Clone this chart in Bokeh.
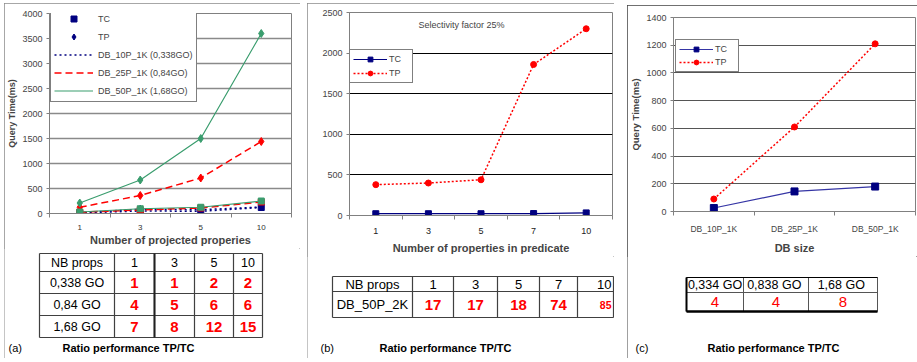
from bokeh.plotting import figure
from bokeh.layouts import row, column
from bokeh.models import Range1d, FixedTicker, Legend, LegendItem, Label, Spacer
from bokeh.core.properties import value
from bokeh.embed import file_html
from bokeh.resources import INLINE

FONT = "Liberation Sans"

# ---------------- data ----------------
# (a)
a_props = ["1", "3", "5", "10"]
a_tc_10p = [10, 50, 45, 120]
a_tp_10p = [15, 85, 75, 130]
a_tc_25p = [25, 70, 110, 230]
a_tp_25p = [125, 360, 710, 1440]
a_tc_50p = [30, 95, 125, 250]
a_tp_50p = [210, 670, 1500, 3600]
a_series = ["DB_10P_1K (0,338GO)", "DB_25P_1K (0,84GO)", "DB_50P_1K (1,68GO)"]
a_yticks = [0, 500, 1000, 1500, 2000, 2500, 3000, 3500, 4000]
a_head = "NB props"
a_rows = ["0,338 GO", "0,84 GO", "1,68 GO"]
a_ratio_10p = [1, 1, 2, 2]
a_ratio_25p = [4, 5, 6, 6]
a_ratio_50p = [7, 8, 12, 15]

# (b)
b_props = ["1", "3", "5", "7", "10"]
b_tc = [22, 22, 22, 24, 32]
b_tp = [380, 400, 440, 1860, 2300]
b_yticks = [0, 500, 1000, 1500, 2000, 2500]
b_head = "NB props"
b_row = "DB_50P_2K"
b_ratio = [17, 17, 18, 74, 85]

# (c)
c_dbs = ["DB_10P_1K", "DB_25P_1K", "DB_50P_1K"]
c_tc = [25, 145, 180]
c_tp = [90, 610, 1210]
c_yticks = [0, 200, 400, 600, 800, 1000, 1200, 1400]
c_sizes = ["0,334 GO", "0,838  GO", "1,68  GO"]
c_ratio = [4, 4, 8]

caption = "Ratio performance TP/TC"

NAVY = "#000080"
RED = "#FF0000"
GREEN = "#3A9D6E"


def make_chart(w, h, left, right, top, frame_h, cats, yticks, grid_color, grid_width,
               xlab_size, xlab_color, lab_standoff, title_standoff):
    n = len(cats)
    xs = list(range(1, n + 1))
    p = figure(width=w, height=h, title=None, output_backend="svg", toolbar_location=None,
               x_range=Range1d(0.5, n + 0.5), y_range=Range1d(yticks[0], yticks[-1]),
               min_border_left=left, min_border_right=right,
               min_border_top=top, min_border_bottom=h - top - frame_h, frame_align=False)
    p.background_fill_color = "white"
    p.border_fill_color = "white"
    p.outline_line_color = "#808080"
    p.xgrid.visible = False
    p.ygrid.ticker = FixedTicker(ticks=yticks)
    p.ygrid.grid_line_color = grid_color
    p.ygrid.grid_line_width = grid_width
    xa = p.xaxis[0]
    xa.ticker = FixedTicker(ticks=xs, minor_ticks=[x - 0.5 for x in xs] + [n + 0.5])
    xa.major_label_overrides = {x: c for x, c in zip(xs, cats)}
    xa.major_tick_line_color = None
    xa.major_tick_out = 0
    xa.major_tick_in = 0
    xa.minor_tick_in = 0
    xa.minor_tick_out = 4
    xa.minor_tick_line_color = "#808080"
    xa.axis_line_color = "#808080"
    xa.major_label_text_font = FONT
    xa.major_label_text_font_size = xlab_size
    xa.major_label_text_color = xlab_color
    xa.major_label_standoff = lab_standoff
    xa.axis_label_text_font = FONT
    xa.axis_label_text_font_style = "bold"
    xa.axis_label_text_font_size = "11px"
    xa.axis_label_standoff = title_standoff
    ya = p.yaxis[0]
    ya.ticker = FixedTicker(ticks=yticks)
    ya.axis_line_color = "#808080"
    ya.major_tick_line_color = "#808080"
    ya.major_tick_out = 3
    ya.major_tick_in = 0
    ya.minor_tick_line_color = None
    ya.major_label_text_font = FONT
    ya.major_label_text_font_size = "9px"
    ya.major_label_standoff = 4
    ya.axis_label_text_font = FONT
    ya.axis_label_text_font_style = "bold"
    ya.axis_label_text_font_size = "9px"
    ya.axis_label_standoff = 2
    return p, xs


def style_legend(lg, pad, gw, gh, sp, fs, standoff):
    lg.border_line_color = "black"
    lg.border_line_width = 1
    lg.background_fill_color = "white"
    lg.background_fill_alpha = 1
    lg.padding = pad
    lg.margin = 0
    lg.spacing = sp
    lg.glyph_width = gw
    lg.glyph_height = gh
    lg.label_height = gh
    lg.label_standoff = standoff
    lg.label_text_font = FONT
    lg.label_text_font_size = fs
    lg.label_text_baseline = "middle"


def table_fig(w, h):
    t = figure(width=w, height=h, title=None, output_backend="svg", toolbar_location=None,
               x_range=Range1d(0, w), y_range=Range1d(h, 0),
               x_axis_type=None, y_axis_type=None, min_border=0, frame_align=False)
    t.outline_line_color = None
    t.background_fill_color = "white"
    t.border_fill_color = "white"
    return t


def grid_lines(t, cx, ry, color, width):
    t.segment(x0=cx, y0=[ry[0]] * len(cx), x1=cx, y1=[ry[-1]] * len(cx),
              line_color=color, line_width=width)
    t.segment(x0=[cx[0]] * len(ry), y0=ry, x1=[cx[-1]] * len(ry), y1=ry,
              line_color=color, line_width=width)


def txt(t, xs, ys, texts, size, color="black", bold=False, align="center"):
    t.text(x=xs, y=ys, text=texts, text_font=value(FONT), text_font_size=size,
           text_color=color, text_font_style="bold" if bold else "normal",
           text_align=align, text_baseline="middle")


def mids(v):
    return [(v[i] + v[i + 1]) / 2 for i in range(len(v) - 1)]


def panel(chart, table, color):
    return column(chart, table, styles={"outline": f"1px solid {color}",
                                        "outline-offset": "-1px"})


# ---------------- panel (a) ----------------
WA, HCA, HTA, FHA = 296, 245, 110, 202
pa, xa_ = make_chart(WA, HCA, 41, 9, 10, FHA, a_props, a_yticks, "#8A8A8A", 1.6,
                     "8px", "#333333", 7, 1)
pa.yaxis[0].axis_label = "Query Time(ms)"
pa.xaxis[0].axis_label = "Number of projected properies"

specs = [
    (a_tc_10p, a_tp_10p, NAVY, "2 3", 1.5),
    (a_tc_25p, a_tp_25p, RED, "7 4", 1.5),
    (a_tc_50p, a_tp_50p, GREEN, "solid", 1.2),
]
lines, tc_marks, tp_marks = [], [], []
for tc, tp, col, dash, lw in specs:
    l1 = pa.line(xa_, tc, line_color=col, line_dash=dash, line_width=lw)
    pa.line(xa_, tp, line_color=col, line_dash=dash, line_width=lw)
    m1 = pa.scatter(xa_, tc, marker="square", size=6, color=col)
    m2 = pa.scatter(xa_, tp, marker="diamond", size=8, color=col)
    lines.append(l1)
    tc_marks.append(m1)
    tp_marks.append(m2)

leg_a = Legend(items=[LegendItem(label="TC", renderers=[tc_marks[0]]),
                      LegendItem(label="TP", renderers=[tp_marks[0]])] +
                     [LegendItem(label=s, renderers=[l]) for s, l in zip(a_series, lines)],
               location=(1, FHA - 91))
style_legend(leg_a, 3, 39, 15, 3, "9px", 5)
pa.add_layout(leg_a)

ta = table_fig(WA, HTA)
cx = [35, 110, 150, 190, 229, 258]
ry = [5, 23, 45, 67, 89]
grid_lines(ta, cx, ry, "#404040", 1.2)
ta.segment(x0=[cx[2]], y0=[ry[0]], x1=[cx[2]], y1=[ry[-1]], line_color="#202020", line_width=2)
mx, my = mids(cx), mids(ry)
txt(ta, mx, [my[0]] * len(mx), [a_head] + a_props, "12.5px")
txt(ta, [mx[0]] * 3, my[1:], a_rows, "12.5px")
for r, vals in enumerate([a_ratio_10p, a_ratio_25p, a_ratio_50p]):
    txt(ta, mx[1:], [my[r + 1]] * len(vals), [str(v) for v in vals], "15px", RED, bold=True)
txt(ta, [4], [99], ["(a)"], "11px", align="left")
txt(ta, [58], [99], [caption], "11px", bold=True, align="left")

panel_a = panel(pa, ta, "#8a8a8a")

# ---------------- panel (b) ----------------
WB, HCB, HTB, FHB = 307, 253, 102, 205
pb, xb_ = make_chart(WB, HCB, 42, 2, 9, FHB, b_props, b_yticks, "black", 1,
                     "9px", "#222222", 8, 5)
pb.xaxis[0].axis_label = "Number of properties in predicate"
lb1 = pb.line(xb_, b_tc, line_color=NAVY, line_width=1.2)
sb1 = pb.scatter(xb_, b_tc, marker="square", size=6, color=NAVY)
lb2 = pb.line(xb_, b_tp, line_color=RED, line_dash="2 2", line_width=1.5)
sb2 = pb.scatter(xb_, b_tp, marker="circle", size=6, color=RED)
pb.add_layout(Label(x=1.81, y=2341, text="Selectivity factor 25%", text_font=FONT,
                    text_font_size="9px", text_baseline="middle", text_align="left"))
leg_b = Legend(items=[LegendItem(label="TC", renderers=[lb1, sb1]),
                      LegendItem(label="TP", renderers=[lb2, sb2])],
               location=(0, FHB - 41 - 32))
style_legend(leg_b, 3, 34, 12, 2, "9px", 2)
pb.add_layout(leg_b)

tb = table_fig(WB, HTB)
cx = [25, 105, 146, 190, 232, 270, 306]
ry = [20, 35, 61]
grid_lines(tb, cx, ry, "#404040", 1.2)
mx, my = mids(cx), mids(ry)
txt(tb, [mx[0]] + mx[1:-1], [my[0]] * (len(mx) - 1), [b_head] + b_props[:-1], "13px")
txt(tb, [cx[-1] - 2], [my[0]], b_props[-1:], "13px", align="right")
txt(tb, [mx[0]], [my[1]], [b_row], "13px")
txt(tb, mx[1:-1], [my[1]] * (len(b_ratio) - 1), [str(v) for v in b_ratio[:-1]], "15px", RED, bold=True)
txt(tb, [cx[-1] - 2], [my[1]], [str(b_ratio[-1])], "10.5px", RED, bold=True, align="right")
txt(tb, [13], [91], ["(b)"], "11px", align="left")
txt(tb, [72], [91], [caption], "11px", bold=True, align="left")

panel_b = panel(pb, tb, "#8a8a8a")

# ---------------- panel (c) ----------------
WC, HCC, HTC, FHC = 290, 251, 102, 200
pc, xc_ = make_chart(WC, HCC, 36, 2, 12, FHC, c_dbs, c_yticks, "#555555", 1,
                     "8.5px", "#444444", 8, 5)
pc.yaxis[0].axis_label = "Query Time(ms)"
pc.yaxis[0].axis_label_text_font_size = "9.5px"
pc.xaxis[0].axis_label = "DB size"
lc1 = pc.line(xc_, c_tc, line_color="#3535A5", line_width=1.2)
sc1 = pc.scatter(xc_, c_tc, marker="square", size=7, color=NAVY)
lc2 = pc.line(xc_, c_tp, line_color=RED, line_dash="2 2", line_width=1.5)
sc2 = pc.scatter(xc_, c_tp, marker="circle", size=6, color=RED)
leg_c = Legend(items=[LegendItem(label="TC", renderers=[lc1, sc1]),
                      LegendItem(label="TP", renderers=[lc2, sc2])],
               location=(2, FHC - 30 - 31))
style_legend(leg_c, 3, 34, 12, 1, "9px", 2)
pc.add_layout(leg_c)

tc_ = table_fig(WC, HTC)
cx = [59, 116, 181, 250]
ry = [21, 36, 55]
grid_lines(tc_, cx, ry, "#555555", 1)
tc_.segment(x0=[cx[0], cx[0], cx[0]], y0=[ry[0], ry[-1], ry[0]],
            x1=[cx[-1], cx[-1], cx[0]], y1=[ry[0], ry[-1], ry[-1]],
            line_color="black", line_width=[1, 2.5, 2])
mx, my = mids(cx), mids(ry)
txt(tc_, mx, [my[0]] * len(mx), c_sizes, "12.5px")
txt(tc_, mx, [my[1]] * len(mx), [str(v) for v in c_ratio], "15px", RED)
txt(tc_, [8], [91], ["(c)"], "11px", align="left")
txt(tc_, [80], [91], [caption], "11px", bold=True, align="left")

panel_c = panel(pc, tc_, "#404040")

layout = column(
    Spacer(height=3),
    row(Spacer(width=4), panel_a, Spacer(width=7), panel_b, Spacer(width=13),
        column(Spacer(height=2), panel_c)),
)

open("out.html", "w").write(file_html(layout, INLINE))
